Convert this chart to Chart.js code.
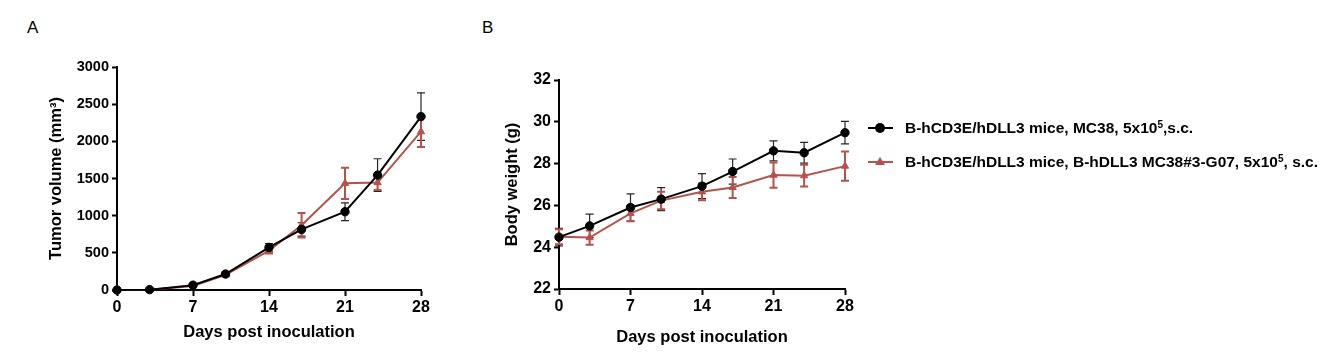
<!DOCTYPE html>
<html><head><meta charset="utf-8">
<script src="https://cdn.jsdelivr.net/npm/chart.js@4.4.0/dist/chart.umd.min.js"></script>
<style>
html,body{margin:0;padding:0;background:#fff;width:1328px;height:357px;overflow:hidden;font-family:"Liberation Sans",Arial,sans-serif;}
.wrap{position:absolute;top:0;height:357px;}
#wa{left:0;width:450px;} #wb{left:450px;width:450px;}
.lbl{position:absolute;font-size:17px;color:#000;}
.legend{position:absolute;left:862px;top:117px;font-weight:bold;font-size:15.5px;color:#000;}
.row{position:relative;height:34px;line-height:22px;white-space:nowrap;}
.row .txt{position:absolute;left:43px;top:0;}
.row sup{font-size:10px;vertical-align:top;position:relative;top:-3px;}
.mk{position:absolute;left:6px;top:10px;width:25px;height:2px;}
.dot{position:absolute;left:13px;top:6px;width:10px;height:10px;border-radius:50%;background:#000;}
.tri{position:absolute;left:13px;top:6px;width:0;height:0;border-left:5px solid transparent;border-right:5px solid transparent;border-bottom:8px solid #b5524c;}
</style></head>
<body>
<div class="lbl" style="left:27px;top:18px;">A</div>
<div class="lbl" style="left:482px;top:18px;">B</div>
<div class="wrap" id="wa"><canvas id="ca" width="450" height="357"></canvas></div>
<div class="wrap" id="wb"><canvas id="cb" width="450" height="357"></canvas></div>
<div class="legend">
  <div class="row"><div class="mk" style="background:#000"></div><div class="dot"></div><div class="txt">B-hCD3E/hDLL3 mice, MC38, 5x10<sup>5</sup>,s.c.</div></div>
  <div class="row"><div class="mk" style="background:#b5524c"></div><div class="tri"></div><div class="txt">B-hCD3E/hDLL3 mice, B-hDLL3 MC38#3-G07, 5x10<sup>5</sup>, s.c.</div></div>
</div>
<script>
const days = [0,3,7,10,14,17,21,24,28];
const seriesNames = ["B-hCD3E/hDLL3 mice, MC38, 5x10^5,s.c.", "B-hCD3E/hDLL3 mice, B-hDLL3 MC38#3-G07, 5x10^5, s.c."];
const tumorMC38    = [0, 5, 65, 215, 573, 815, 1053, 1546, 2333];
const tumorMC38Err = [0, 5, 15, 25, 50, 90, 120, 220, 320];
const tumorG07     = [0, 3, 55, 205, 530, 870, 1435, 1445, 2130];
const tumorG07Err  = [0, 5, 15, 25, 40, 165, 210, 100, 205];
const bwMC38    = [24.48, 25.02, 25.90, 26.30, 26.92, 27.62, 28.61, 28.52, 29.48];
const bwMC38Err = [0.42, 0.56, 0.65, 0.55, 0.60, 0.60, 0.48, 0.50, 0.54];
const bwG07     = [24.50, 24.46, 25.62, 26.23, 26.65, 26.86, 27.45, 27.42, 27.88];
const bwG07Err  = [0.36, 0.34, 0.38, 0.42, 0.40, 0.50, 0.60, 0.52, 0.70];
const xTickStep = 7;

const BLACK = '#000000', RED = '#b5524c';
const FONT = '"Liberation Sans", Arial, sans-serif';

const errorBars = {
  id: 'errorBars',
  beforeDatasetsDraw(chart) {
    const ctx = chart.ctx;
    const ys = chart.scales.y;
    chart.data.datasets.forEach((ds, di) => {
      const meta = chart.getDatasetMeta(di);
      ctx.save();
      ctx.strokeStyle = ds.errColor;
      ctx.lineWidth = ds.errWidth;
      meta.data.forEach((pt, i) => {
        const e = ds.errors[i];
        if (!e) return;
        const v = ds.data[i].y;
        const yt = ys.getPixelForValue(v + e);
        const yb = ys.getPixelForValue(v - e);
        const x = pt.x;
        ctx.beginPath();
        ctx.moveTo(x, yt); ctx.lineTo(x, yb);
        ctx.moveTo(x - 4, yt); ctx.lineTo(x + 4, yt);
        ctx.moveTo(x - 4, yb); ctx.lineTo(x + 4, yb);
        ctx.stroke();
      });
      ctx.restore();
    });
  }
};

function mkData(vals) { return days.map((d, i) => ({x: d, y: vals[i]})); }

function makeChart(id, cfg) {
  const titleFont = {family: FONT, size: 16.5, weight: 'bold'};
  new Chart(document.getElementById(id), {
    type: 'line',
    data: {
      datasets: [
        {label: seriesNames[0], data: mkData(cfg.a), errors: cfg.aErr, borderColor: BLACK, backgroundColor: BLACK,
         borderWidth: 2, pointStyle: 'circle', pointRadius: 4.2, pointBorderWidth: 1, errColor: 'rgba(0,0,0,0.85)', errWidth: 1.2, clip: false},
        {label: seriesNames[1], data: mkData(cfg.b), errors: cfg.bErr, borderColor: RED, backgroundColor: RED,
         borderWidth: 2, pointStyle: 'triangle', pointRadius: 4.2, pointBorderWidth: 1, errColor: RED, errWidth: 2, clip: false}
      ]
    },
    options: {
      responsive: false, animation: false,
      layout: {padding: cfg.pad},
      plugins: {legend: {display: false}, tooltip: {enabled: false}},
      scales: {
        x: {type: 'linear', min: 0, max: 28,
            ticks: {stepSize: xTickStep, color: '#000', font: {family: FONT, size: cfg.xTickSize, weight: 'bold'}, padding: 2},
            grid: {display: true, drawOnChartArea: false, drawTicks: true, tickLength: 6, tickWidth: 2, tickColor: '#000'},
            border: {display: true, color: '#000', width: 2},
            title: {display: true, text: 'Days post inoculation', color: '#000', font: titleFont, padding: {top: 0, bottom: cfg.xTitlePad}},
            afterFit(s) { s.height = cfg.xH; }},
        y: {type: 'linear', min: cfg.ymin, max: cfg.ymax,
            ticks: {stepSize: cfg.ystep, color: '#000', font: {family: FONT, size: cfg.yTickSize, weight: 'bold'}, padding: 3,
                    callback: (v) => String(v)},
            grid: {display: true, drawOnChartArea: false, drawTicks: true, tickLength: 5, tickWidth: 2, tickColor: '#000'},
            border: {display: true, color: '#000', width: 2},
            title: {display: true, text: cfg.ytitle, color: '#000', font: titleFont, padding: {top: cfg.yTitlePad, bottom: 0}},
            afterFit(s) { s.width = cfg.yW; }}
      }
    },
    plugins: [errorBars]
  });
}

makeChart('ca', {a: tumorMC38, aErr: tumorMC38Err, b: tumorG07, bErr: tumorG07Err,
  pad: {left: 0, top: 67, right: 29, bottom: 0}, xH: 67, yW: 117, xTitlePad: 15, yTitlePad: 47,
  ymin: 0, ymax: 3000, ystep: 500, ytitle: 'Tumor volume (mm³)', xTickSize: 16, yTickSize: 14.5});
makeChart('cb', {a: bwMC38, aErr: bwMC38Err, b: bwG07, bErr: bwG07Err,
  pad: {left: 0, top: 80, right: 55, bottom: 0}, xH: 68, yW: 109, xTitlePad: 10, yTitlePad: 53,
  ymin: 22, ymax: 32, ystep: 2, ytitle: 'Body weight (g)', xTickSize: 16, yTickSize: 16});
</script>
</body></html>
